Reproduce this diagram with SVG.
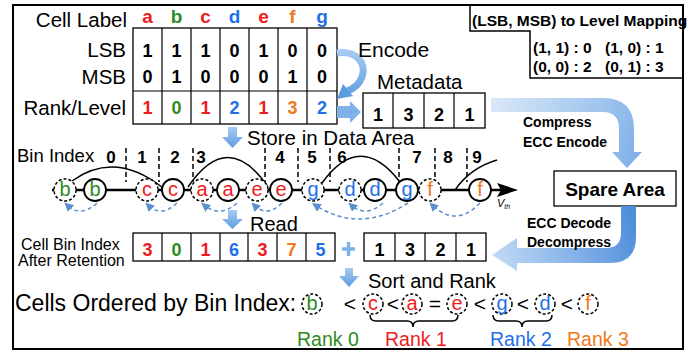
<svg xmlns="http://www.w3.org/2000/svg" width="699" height="356" viewBox="0 0 699 356">
<defs>
<style>
text{font-family:"Liberation Sans",Arial,sans-serif;fill:#000}
.lbl{font-size:20.5px}
.b{font-weight:bold}
.map{font-size:15.5px;font-weight:bold}
.num{font-size:18px;font-weight:bold;text-anchor:middle}
.mid{text-anchor:middle}
.end{text-anchor:end}
.red{fill:#ee1c1c}
.grn{fill:#2e8b22}
.blu{fill:#1f6fe8}
.org{fill:#f07820}
.box{fill:#fff;stroke:#000;stroke-width:1.3}
.ln{stroke:#000;stroke-width:1.2}
.cs{fill:#fff;stroke:#000;stroke-width:1.8}
.cd{fill:#fff;stroke:#000;stroke-width:1.5;stroke-dasharray:3 2}
.cl{font-size:20px;text-anchor:middle}
.sep{stroke:#000;stroke-width:1.5;stroke-dasharray:5 3}
.arc{fill:none;stroke:#000;stroke-width:1.5}
.darc{fill:none;stroke:#5b8fd0;stroke-width:1.5;stroke-dasharray:4 3}
</style>
<marker id="ah" viewBox="0 0 10 10" refX="6" refY="5" markerWidth="6" markerHeight="6" orient="auto">
<path d="M0,0 L10,5 L0,10 z" fill="#5b8fd0"/>
</marker>
<linearGradient id="gc" gradientUnits="userSpaceOnUse" x1="491" y1="100" x2="640" y2="160">
<stop offset="0" stop-color="#dbe9f9"/><stop offset="1" stop-color="#7fb0e8"/>
</linearGradient>
<linearGradient id="gd" gradientUnits="userSpaceOnUse" x1="628" y1="206" x2="492" y2="260">
<stop offset="0" stop-color="#4f8ddb"/><stop offset="1" stop-color="#c3dcf6"/>
</linearGradient>
<linearGradient id="ge" gradientUnits="userSpaceOnUse" x1="337" y1="50" x2="340" y2="100">
<stop offset="0" stop-color="#a9cdf3"/><stop offset="1" stop-color="#5d9be0"/>
</linearGradient>
<linearGradient id="gv" x1="0" y1="0" x2="0" y2="1">
<stop offset="0" stop-color="#a8cbf2"/><stop offset="1" stop-color="#5d9be0"/>
</linearGradient>
</defs>

<rect x="13" y="5" width="670" height="344" fill="#fff" stroke="#000" stroke-width="2"/>

<g id="mapping">
<path d="M470,5 V31 H530 V78 H683" fill="none" stroke="#000" stroke-width="1.5"/>
<text x="472" y="26" class="map">(LSB, MSB) to Level Mapping</text>
<text x="533" y="53" class="map">(1, 1) : 0</text>
<text x="605" y="53" class="map">(1, 0) : 1</text>
<text x="533" y="72" class="map">(0, 0) : 2</text>
<text x="605" y="72" class="map">(0, 1) : 3</text>
</g>

<g id="cell-table">
<text x="127" y="27" class="lbl end">Cell Label</text>
<text x="126" y="57" class="lbl end">LSB</text>
<text x="126" y="84" class="lbl end">MSB</text>
<text x="126" y="115" class="lbl end">Rank/Level</text>
<g class="num" style="font-size:19px">
<text x="147.5" y="23" class="red">a</text>
<text x="176.5" y="23" class="grn">b</text>
<text x="205.5" y="23" class="red">c</text>
<text x="234.5" y="23" class="blu">d</text>
<text x="263.5" y="23" class="red">e</text>
<text x="292.5" y="23" class="org">f</text>
<text x="322" y="23" class="blu">g</text>
</g>
<rect x="133" y="28" width="204" height="96" class="box"/>
<path d="M162,28V124M191,28V124M220,28V124M249,28V124M278,28V124M307,28V124M133,91H337" class="ln"/>
<g class="num">
<text x="147.5" y="57">1</text><text x="176.5" y="57">1</text><text x="205.5" y="57">1</text><text x="234.5" y="57">0</text><text x="263.5" y="57">1</text><text x="292.5" y="57">0</text><text x="322" y="57">0</text>
<text x="147.5" y="83">0</text><text x="176.5" y="83">1</text><text x="205.5" y="83">0</text><text x="234.5" y="83">0</text><text x="263.5" y="83">0</text><text x="292.5" y="83">1</text><text x="322" y="83">0</text>
<text x="147.5" y="114" class="red">1</text><text x="176.5" y="114" class="grn">0</text><text x="205.5" y="114" class="red">1</text><text x="234.5" y="114" class="blu">2</text><text x="263.5" y="114" class="red">1</text><text x="292.5" y="114" class="org">3</text><text x="322" y="114" class="blu">2</text>
</g>
</g>

<g id="metadata">
<text x="377" y="89" class="lbl">Metadata</text>
<rect x="363" y="93" width="122" height="35" class="box"/>
<path d="M393,93V128M424,93V128M454,93V128" class="ln"/>
<g class="num"><text x="378" y="121">1</text><text x="408.5" y="121">3</text><text x="439" y="121">2</text><text x="469.5" y="121">1</text></g>
</g>

<g id="spare-area">
<rect x="554" y="171" width="122" height="35" class="box"/>
<text x="615" y="196" class="mid b" style="font-size:19px">Spare Area</text>
</g>

<g id="bin-axis">
<text x="17" y="162" style="font-size:18.5px">Bin Index</text>
<g class="num" style="font-size:17px">
<text x="111" y="163">0</text><text x="142" y="163">1</text><text x="175" y="163">2</text><text x="201" y="163">3</text><text x="280" y="163">4</text><text x="312" y="163">5</text><text x="342" y="163">6</text><text x="417" y="163">7</text><text x="448" y="163">8</text><text x="477" y="163">9</text>
</g>
<path d="M126,148V182M159,148V182M193,148V182M265,148V182M298,148V182M330,148V182M399,148V182M435,148V182M467,148V182" class="sep"/>
<line x1="52" y1="190" x2="505" y2="190" stroke="#000" stroke-width="2.5"/>
<polygon points="497,183 518,190 497,197 501,190" fill="#000"/>
<text x="497" y="207" style="font-size:11px;font-style:italic">V<tspan style="font-size:7px" dy="2">th</tspan></text>
</g>

<g id="connectors">
<path d="M72,181 Q115,150 163,188" class="arc"/>
<path d="M188,187 Q228,128 268,187" class="arc"/>
<path d="M322,183 Q360,130 400,182" class="arc"/>
<path d="M455,190 Q470,168 497,160" class="arc"/>
<path d="M97,203 Q81,218 67,205" class="darc" marker-end="url(#ah)"/>
<path d="M177,203 Q161,218 148,205" class="darc" marker-end="url(#ah)"/>
<path d="M237,203 Q220,218 204,205" class="darc" marker-end="url(#ah)"/>
<path d="M282,203 Q267,218 254,205" class="darc" marker-end="url(#ah)"/>
<path d="M408,203 Q360,234 315,205" class="darc" marker-end="url(#ah)"/>
<path d="M383,203 Q366,218 351,205" class="darc" marker-end="url(#ah)"/>
<path d="M480,203 Q456,228 432,205" class="darc" marker-end="url(#ah)"/>
<path d="M337,53 C356,50 367,63 362,77 C359,85 353,89 347,91" fill="none" stroke="url(#ge)" stroke-width="7"/>
<polygon points="337,99 343,84 353,96" fill="#5d9be0"/>
<path d="M337,106 H350 V101 L361,112 L350,123 V118 H337 Z" fill="#7fb2ea"/>
<path d="M491,98 H603 Q634,98 634,129 V152 H642 L627,168 L612,152 H619 V129 Q619,112 603,112 H491 Z" fill="url(#gc)"/>
<path d="M621,206 H636 V237 Q636,263 610,263 H517 V271 L492,255 L517,238 V248 H606 Q621,248 621,233 Z" fill="url(#gd)"/>
<path d="M228,127 H237 V137 H243 L232.5,148 L222,137 H228 Z" fill="url(#gv)"/>
<path d="M228,210 H237 V219 H243 L232.5,229 L222,219 H228 Z" fill="url(#gv)"/>
<path d="M345,268 H353 V276 H359 L349,287 L339,276 H345 Z" fill="url(#gv)"/>
<path d="M342,249 H355 M348.5,242 V256" stroke="#7fb2ea" stroke-width="3.5"/>
</g>

<g id="cells-row">
<circle cx="65" cy="190" r="11" class="cd"/><text x="65" y="196" class="cl grn">b</text>
<circle cx="95" cy="190" r="11" class="cs"/><text x="95" y="196" class="cl grn">b</text>
<circle cx="147" cy="190" r="11" class="cd"/><text x="147" y="196" class="cl red">c</text>
<circle cx="173" cy="190" r="11" class="cs"/><text x="173" y="196" class="cl red">c</text>
<circle cx="202" cy="190" r="11" class="cd"/><text x="202" y="196" class="cl red">a</text>
<circle cx="228" cy="190" r="11" class="cs"/><text x="228" y="196" class="cl red">a</text>
<circle cx="257" cy="190" r="11" class="cd"/><text x="257" y="196" class="cl red">e</text>
<circle cx="281" cy="190" r="11" class="cs"/><text x="281" y="196" class="cl red">e</text>
<circle cx="313" cy="190" r="11" class="cd"/><text x="313" y="196" class="cl blu">g</text>
<circle cx="350" cy="190" r="11" class="cd"/><text x="350" y="196" class="cl blu">d</text>
<circle cx="375" cy="190" r="11" class="cs"/><text x="375" y="196" class="cl blu">d</text>
<circle cx="407" cy="190" r="11" class="cs"/><text x="407" y="196" class="cl blu">g</text>
<circle cx="430" cy="190" r="11" class="cd"/><text x="430" y="196" class="cl org">f</text>
<circle cx="480" cy="190" r="11" class="cs"/><text x="480" y="196" class="cl org">f</text>
</g>

<g id="labels">
<text x="358" y="57" style="font-size:21px">Encode</text>
<text x="247" y="145" class="lbl">Store in Data Area</text>
<text x="523" y="127" class="b" style="font-size:14px">Compress</text>
<text x="523" y="147" class="b" style="font-size:14px">ECC Encode</text>
<text x="527" y="228" class="b" style="font-size:14px">ECC Decode</text>
<text x="527" y="247" class="b" style="font-size:14px">Decompress</text>
<text x="250" y="231" style="font-size:20px">Read</text>
<text x="368" y="288" style="font-size:20px">Sort and Rank</text>
</g>

<g id="bin-after-retention">
<text x="21" y="250" style="font-size:16px">Cell Bin Index</text>
<text x="18" y="266" style="font-size:16px">After Retention</text>
<rect x="133" y="233" width="202" height="28" class="box"/>
<path d="M162,233V261M191,233V261M220,233V261M248,233V261M277,233V261M306,233V261" class="ln"/>
<g class="num">
<text x="147.5" y="256" class="red">3</text><text x="176.5" y="256" class="grn">0</text><text x="205.5" y="256" class="red">1</text><text x="234" y="256" class="blu">6</text><text x="262.5" y="256" class="red">3</text><text x="291.5" y="256" class="org">7</text><text x="320.5" y="256" class="blu">5</text>
</g>
</g>

<g id="metadata-read">
<rect x="364" y="233" width="122" height="28" class="box"/>
<path d="M395,233V261M425,233V261M456,233V261" class="ln"/>
<g class="num"><text x="379.5" y="256">1</text><text x="410" y="256">3</text><text x="440.5" y="256">2</text><text x="471" y="256">1</text></g>
</g>

<g id="ordered">
<text x="15" y="311" style="font-size:23px">Cells Ordered by Bin Index:</text>
<circle cx="312" cy="304" r="10" class="cd"/><text x="312" y="310" class="cl grn">b</text>
<circle cx="373" cy="304" r="10" class="cd"/><text x="373" y="310" class="cl red">c</text>
<circle cx="412" cy="304" r="10" class="cd"/><text x="412" y="310" class="cl red">a</text>
<circle cx="457" cy="304" r="10" class="cd"/><text x="457" y="310" class="cl red">e</text>
<circle cx="502" cy="304" r="10" class="cd"/><text x="502" y="310" class="cl blu">g</text>
<circle cx="545" cy="304" r="10" class="cd"/><text x="545" y="310" class="cl blu">d</text>
<circle cx="588" cy="304" r="10" class="cd"/><text x="588" y="310" class="cl org">f</text>
<g class="mid" style="font-size:21px">
<text x="350" y="311">&lt;</text><text x="393" y="311">&lt;</text><text x="435" y="311">=</text><text x="480" y="311">&lt;</text><text x="523" y="311">&lt;</text><text x="567" y="311">&lt;</text>
</g>
<path d="M370,315 Q370,321 376,321 H407 Q413,321 413,327 Q413,321 419,321 H452 Q458,321 458,315" class="arc"/>
<path d="M493,315 Q493,321 499,321 H516 Q522,321 522,327 Q522,321 528,321 H546 Q552,321 552,315" class="arc"/>
<text x="297" y="346" class="grn" style="font-size:19.5px">Rank 0</text>
<text x="385" y="346" class="red" style="font-size:19.5px">Rank 1</text>
<text x="490" y="346" class="blu" style="font-size:19.5px">Rank 2</text>
<text x="567" y="346" class="org" style="font-size:19.5px">Rank 3</text>
</g>
</svg>
